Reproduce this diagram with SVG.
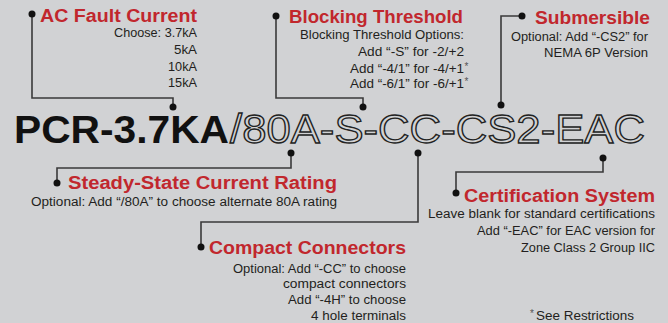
<svg xmlns="http://www.w3.org/2000/svg" width="668" height="323" viewBox="0 0 668 323">
<style>
.t{font-family:"Liberation Sans",Arial,sans-serif;font-weight:bold;font-size:18px;fill:#c1272d}
.s{font-family:"Liberation Sans",Arial,sans-serif;font-size:12.5px;fill:#231f20;text-anchor:end}
.sl{font-family:"Liberation Sans",Arial,sans-serif;font-size:12.5px;fill:#231f20}
.ln{fill:none;stroke:#3a3a3a;stroke-width:1.6}
.d{fill:#111}
.sup{font-size:10px;fill:#555}
</style>
<rect width="668" height="323" fill="#d1d2d4"/>
<g id="connectors">
<path class="ln" d="M32 14V98H173V107"/>
<path class="ln" d="M276 16V98H363V107"/>
<path class="ln" d="M522 16H501V105"/>
<path class="ln" d="M291 153V168H57V183"/>
<path class="ln" d="M418 153V222H201V247"/>
<path class="ln" d="M603 158V172H456V193"/>
<circle class="d" cx="32" cy="14" r="3.5"/><circle class="d" cx="173" cy="107" r="3.5"/>
<circle class="d" cx="276" cy="16" r="3.5"/><circle class="d" cx="363" cy="107" r="3.5"/>
<circle class="d" cx="522" cy="16" r="3.5"/><circle class="d" cx="501" cy="105" r="3.5"/>
<circle class="d" cx="291" cy="153" r="3.5"/><circle class="d" cx="57" cy="183" r="3.5"/>
<circle class="d" cx="418" cy="153" r="3.5"/><circle class="d" cx="201" cy="247" r="3.5"/>
<circle class="d" cx="603" cy="158" r="3.5"/><circle class="d" cx="456" cy="193" r="3.5"/>
</g>
<g id="part-number">
<text x="14" y="143" font-family="Liberation Sans,Arial,sans-serif" font-weight="bold" font-size="39" fill="#111" textLength="215" lengthAdjust="spacingAndGlyphs">PCR-3.7KA</text>
<text x="230" y="143" font-family="Liberation Sans,Arial,sans-serif" font-size="40" fill="#d1d2d4" stroke="#222" stroke-width="1.3" textLength="415" lengthAdjust="spacingAndGlyphs">/80A-S-CC-CS2-EAC</text>
</g>
<g id="ac-fault-current">
<text class="t" x="40" y="22" textLength="157" lengthAdjust="spacingAndGlyphs">AC Fault Current</text>
<text class="s" x="197" y="37" textLength="83" lengthAdjust="spacingAndGlyphs">Choose: 3.7kA</text>
<text class="s" x="197" y="54" textLength="23" lengthAdjust="spacingAndGlyphs">5kA</text>
<text class="s" x="197" y="71" textLength="29" lengthAdjust="spacingAndGlyphs">10kA</text>
<text class="s" x="197" y="87" textLength="29" lengthAdjust="spacingAndGlyphs">15kA</text>
</g>
<g id="blocking-threshold">
<text class="t" x="289" y="23" textLength="174" lengthAdjust="spacingAndGlyphs">Blocking Threshold</text>
<text class="s" x="464" y="39" textLength="164" lengthAdjust="spacingAndGlyphs">Blocking Threshold Options:</text>
<text class="s" x="464" y="56" textLength="106" lengthAdjust="spacingAndGlyphs">Add “-S” for -2/+2</text>
<text class="sl" x="350" y="73" textLength="114" lengthAdjust="spacingAndGlyphs">Add “-4/1” for -4/+1</text><text class="sl sup" x="464.5" y="70">*</text>
<text class="sl" x="350" y="88" textLength="114" lengthAdjust="spacingAndGlyphs">Add “-6/1” for -6/+1</text><text class="sl sup" x="464.5" y="85">*</text>
</g>
<g id="submersible">
<text class="t" x="535" y="24" textLength="115" lengthAdjust="spacingAndGlyphs">Submersible</text>
<text class="s" x="648" y="41" textLength="137" lengthAdjust="spacingAndGlyphs">Optional: Add “-CS2” for</text>
<text class="s" x="648" y="57" textLength="104" lengthAdjust="spacingAndGlyphs">NEMA 6P Version</text>
</g>
<g id="steady-state">
<text class="t" x="68" y="189" textLength="269" lengthAdjust="spacingAndGlyphs">Steady-State Current Rating</text>
<text class="sl" x="31" y="206" textLength="306" lengthAdjust="spacingAndGlyphs">Optional: Add “/80A” to choose alternate 80A rating</text>
</g>
<g id="compact-connectors">
<text class="t" x="209" y="254" textLength="197" lengthAdjust="spacingAndGlyphs">Compact Connectors</text>
<text class="s" x="406" y="273" textLength="173" lengthAdjust="spacingAndGlyphs">Optional: Add “-CC” to choose</text>
<text class="s" x="406" y="288" textLength="123" lengthAdjust="spacingAndGlyphs">compact connectors</text>
<text class="s" x="406" y="304" textLength="118" lengthAdjust="spacingAndGlyphs">Add “-4H” to choose</text>
<text class="s" x="406" y="320" textLength="95" lengthAdjust="spacingAndGlyphs">4 hole terminals</text>
</g>
<g id="note">
<text class="sl sup" x="530" y="317">*</text>
<text class="sl" x="536" y="320" textLength="98" lengthAdjust="spacingAndGlyphs">See Restrictions</text>
</g>
<g id="certification-system">
<text class="t" x="464" y="202" textLength="191" lengthAdjust="spacingAndGlyphs">Certification System</text>
<text class="s" x="655" y="218" textLength="227" lengthAdjust="spacingAndGlyphs">Leave blank for standard certifications</text>
<text class="s" x="655" y="235" textLength="178" lengthAdjust="spacingAndGlyphs">Add “-EAC” for EAC version for</text>
<text class="s" x="655" y="252" textLength="134" lengthAdjust="spacingAndGlyphs">Zone Class 2 Group IIC</text>
</g>
</svg>
